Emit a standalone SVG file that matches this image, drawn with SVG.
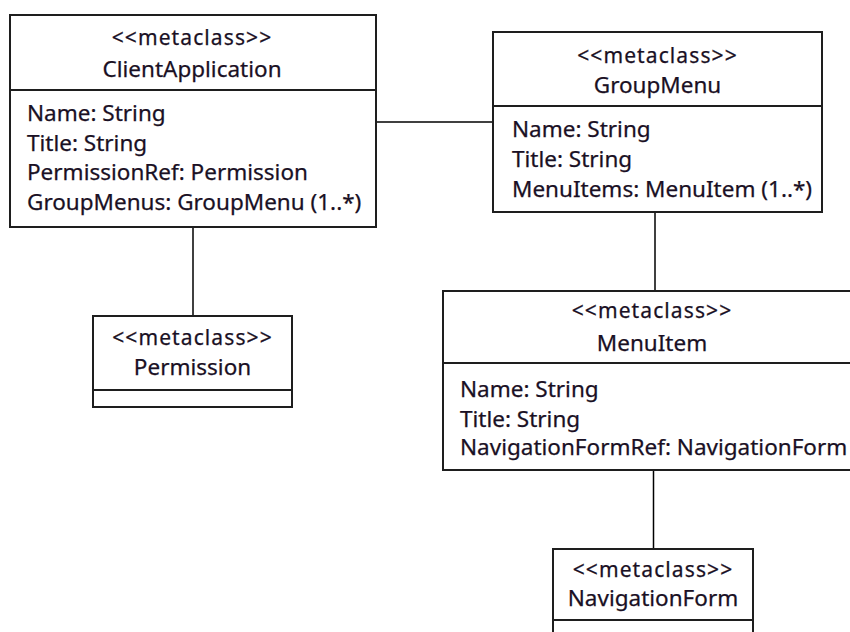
<svg xmlns="http://www.w3.org/2000/svg" width="850" height="632" viewBox="0 0 850 632">
  <style>
    .box { fill: #ffffff; stroke: #1e1e1e; stroke-width: 2; }
    .div { stroke: #1e1e1e; stroke-width: 2; }
    .conn { stroke: #000000; stroke-width: 1.5; fill: none; }
    text { font-family: "Noto Sans", "Open Sans", sans-serif; font-size: 22.5px; fill: #1a1024; stroke: #1a1024; stroke-width: 0.25px; }
    .st { text-anchor: middle; font-size: 21px; letter-spacing: 1.1px; }
    .nm { text-anchor: middle; }
  </style>
  <rect width="850" height="632" fill="#ffffff"/>

  <!-- associations -->
  <g id="connectors">
    <line class="conn" x1="376" y1="122" x2="493" y2="122"/>
    <line class="conn" x1="193" y1="227" x2="193" y2="316"/>
    <line class="conn" x1="655" y1="212" x2="655" y2="291"/>
    <line class="conn" x1="653.5" y1="470" x2="653.5" y2="549"/>
  </g>

  <g id="ClientApplication">
    <rect class="box" x="10" y="15" width="366" height="212"/>
    <line class="div" x1="10" y1="90" x2="376" y2="90"/>
    <text class="st" x="192" y="45">&lt;&lt;metaclass&gt;&gt;</text>
    <text class="nm" x="192" y="77">ClientApplication</text>
    <text x="27" y="121">Name: String</text>
    <text x="27" y="150.5">Title: String</text>
    <text x="27" y="180">PermissionRef: Permission</text>
    <text x="27" y="210">GroupMenus: GroupMenu (1..*)</text>
  </g>

  <g id="GroupMenu">
    <rect class="box" x="493" y="32" width="329" height="180"/>
    <line class="div" x1="493" y1="106" x2="822" y2="106"/>
    <text class="st" x="657.5" y="63">&lt;&lt;metaclass&gt;&gt;</text>
    <text class="nm" x="657.5" y="93">GroupMenu</text>
    <text x="512" y="137">Name: String</text>
    <text x="512" y="167">Title: String</text>
    <text x="512" y="197">MenuItems: MenuItem (1..*)</text>
  </g>

  <g id="Permission">
    <rect class="box" x="93" y="316" width="199" height="91"/>
    <line class="div" x1="93" y1="390" x2="292" y2="390"/>
    <text class="st" x="192.5" y="345">&lt;&lt;metaclass&gt;&gt;</text>
    <text class="nm" x="192.5" y="375">Permission</text>
  </g>

  <g id="MenuItem">
    <rect class="box" x="443" y="291" width="418" height="179"/>
    <line class="div" x1="443" y1="363" x2="861" y2="363"/>
    <text class="st" x="652" y="318">&lt;&lt;metaclass&gt;&gt;</text>
    <text class="nm" x="652" y="351">MenuItem</text>
    <text x="460" y="397">Name: String</text>
    <text x="460" y="427">Title: String</text>
    <text x="460" y="455">NavigationFormRef: NavigationForm</text>
  </g>

  <g id="NavigationForm">
    <rect class="box" x="553" y="549" width="200" height="100"/>
    <line class="div" x1="553" y1="620" x2="753" y2="620"/>
    <text class="st" x="653" y="577">&lt;&lt;metaclass&gt;&gt;</text>
    <text class="nm" x="653" y="606">NavigationForm</text>
  </g>
</svg>
